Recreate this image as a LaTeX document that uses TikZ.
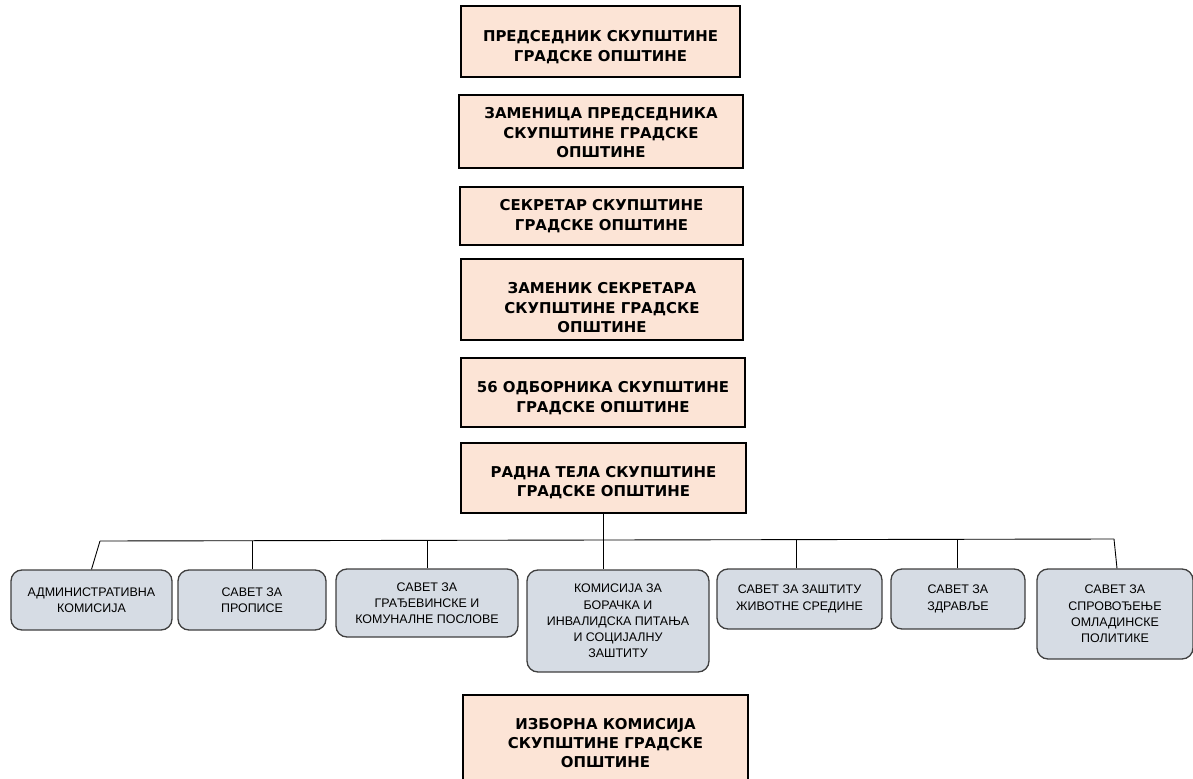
\documentclass[tikz,border=0pt]{standalone}
\usepackage{fontspec}
\setmainfont{DejaVu Sans}
\newfontfamily\councilfont{Liberation Sans}
\usetikzlibrary{positioning}
\definecolor{peach}{HTML}{FCE4D6}
\definecolor{bluegray}{HTML}{D6DCE4}
\definecolor{boxline}{HTML}{3F3F3F}
\newcommand{\drop}[1]{\rule{0pt}{#1}}

\begin{document}
\begin{tikzpicture}[
    x=1bp, y=-1bp,
    every node/.style={align=center, inner sep=0pt},
    office/.style={draw=black, line width=1.8bp, fill=peach,
        font=\fontsize{15}{19.5}\selectfont\bfseries},
    council/.style={draw=boxline, line width=1.3bp, fill=bluegray,
        rounded corners=11bp, text=black,
        font=\councilfont\fontsize{12.5}{16.3}\selectfont},
    link/.style={draw, line width=0.9bp}
]
\useasboundingbox (0,0) rectangle (1193,779);

% Assembly offices, one under the other
\node[office, minimum width=279bp, minimum height=71bp] (pred) at (600.5,41.5)
    {\drop{22bp}ПРЕДСЕДНИК СКУПШТИНЕ\\ГРАДСКЕ ОПШТИНЕ};
\node[office, minimum width=284bp, minimum height=73bp] (zampred) at (601,131.5)
    {\drop{14bp}ЗАМЕНИЦА ПРЕДСЕДНИКА\\СКУПШТИНЕ ГРАДСКЕ\\ОПШТИНЕ};
\node[office, minimum width=283bp, minimum height=58bp] (sekr) at (601.5,216)
    {СЕКРЕТАР СКУПШТИНЕ\\ГРАДСКЕ ОПШТИНЕ};
\node[office, minimum width=282bp, minimum height=81bp] (zamsekr) at (602,299.5)
    {\drop{28bp}ЗАМЕНИК СЕКРЕТАРА\\СКУПШТИНЕ ГРАДСКЕ\\ОПШТИНЕ};
\node[office, minimum width=284bp, minimum height=69bp] (odb) at (603,392.5)
    {\drop{22bp}56 ОДБОРНИКА СКУПШТИНЕ\\ГРАДСКЕ ОПШТИНЕ};
\node[office, minimum width=285bp, minimum height=70bp] (radna) at (603.5,478)
    {\drop{20bp}РАДНА ТЕЛА СКУПШТИНЕ\\ГРАДСКЕ ОПШТИНЕ};
\node[office, minimum width=285bp, minimum height=96bp] (izb) at (605.5,743)
    {ИЗБОРНА КОМИСИЈА\\СКУПШТИНЕ ГРАДСКЕ\\ОПШТИНЕ};

% Working bodies
\node[council, minimum width=161bp, minimum height=60bp] (adm) at (91.5,600)
    {АДМИНИСТРАТИВНА\\КОМИСИЈА};
\node[council, minimum width=148bp, minimum height=60bp] (prop) at (252,600)
    {САВЕТ ЗА\\ПРОПИСЕ};
\node[council, minimum width=182bp, minimum height=68bp] (grad) at (427,603)
    {САВЕТ ЗА\\ГРАЂЕВИНСКЕ И\\КОМУНАЛНЕ ПОСЛОВЕ};
\node[council, minimum width=182bp, minimum height=102bp] (bor) at (618,621)
    {КОМИСИЈА ЗА\\БОРАЧКА И\\ИНВАЛИДСКА ПИТАЊА\\И СОЦИЈАЛНУ\\ЗАШТИТУ};
\node[council, minimum width=165bp, minimum height=60bp] (env) at (799.5,599)
    {САВЕТ ЗА ЗАШТИТУ\\ЖИВОТНЕ СРЕДИНЕ};
\node[council, minimum width=134bp, minimum height=60bp] (zdr) at (958,599)
    {САВЕТ ЗА\\ЗДРАВЉЕ};
\node[council, minimum width=156bp, minimum height=90bp] (oml) at (1115,614)
    {САВЕТ ЗА\\СПРОВОЂЕЊЕ\\ОМЛАДИНСКЕ\\ПОЛИТИКЕ};

% Bar and connectors
\coordinate (barL) at (100,541);
\coordinate (barR) at (1114,539);
\draw[link] (barL) -- (barR);
\draw[link] (barL) -- (adm.north);
\draw[link] (prop.north) -- (prop.north |- barL);
\draw[link] (grad.north) -- (grad.north |- barL);
\draw[link] (radna.south) -- (radna.south |- bor.north);
\draw[link] ([xshift=-3.5bp]env.north) -- ([xshift=-3.5bp]env.north |- barR);
\draw[link] ([xshift=-1bp]zdr.north) -- ([xshift=-1bp]zdr.north |- barR);
\draw[link] (barR) -- ([xshift=2bp]oml.north);
\end{tikzpicture}
\end{document}
